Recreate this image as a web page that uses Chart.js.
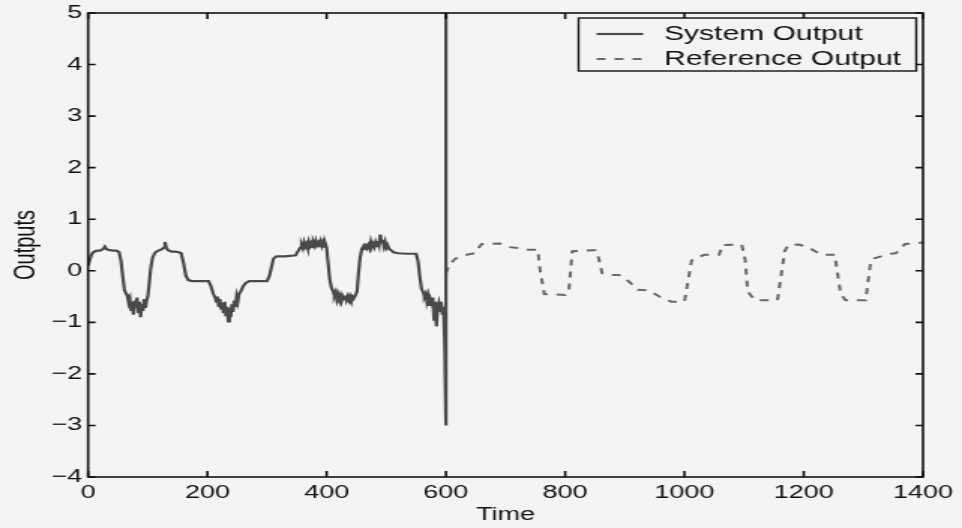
<!DOCTYPE html>
<html>
<head>
<meta charset="utf-8">
<script src="https://cdn.jsdelivr.net/npm/chart.js@4"></script>
<style>
  html, body { margin: 0; padding: 0; background: #f4f4f2; overflow: hidden; }
  /* the figure is printed wide: stretch the canvas sideways */
  #wrap { width: 641px; height: 528px; transform: scaleX(1.5008); transform-origin: 0 0; }
</style>
</head>
<body>
<div id="wrap"><canvas id="chart" width="641" height="528"></canvas></div>
<script>
// system output, 0..600
const sysTime = [
  0, 3, 6, 10, 15, 20, 25, 28, 31, 36,
  42, 48, 52, 55, 58, 61, 64, 66, 68, 70,
  72, 74, 76, 78, 80, 82, 84, 86, 88, 90,
  92, 94, 96, 98, 100, 102, 105, 108, 112, 116,
  120, 124, 127, 129, 131, 134, 140, 146, 152, 156,
  160, 164, 168, 174, 190, 202, 206, 210, 213, 215,
  217, 219, 221, 223, 225, 227, 229, 231, 233, 235,
  237, 239, 241, 243, 245, 247, 249, 251, 253, 256,
  260, 264, 270, 285, 300, 304, 308, 311, 316, 330,
  348, 352, 356, 358, 360, 362, 364, 366, 368, 370,
  372, 374, 376, 378, 380, 382, 384, 386, 388, 390,
  392, 394, 396, 398, 400, 402, 405, 408, 411, 413,
  415, 417, 419, 421, 423, 425, 427, 429, 431, 433,
  435, 437, 439, 441, 443, 445, 448, 451, 453, 456,
  459, 462, 464, 466, 468, 470, 472, 474, 476, 478,
  480, 482, 484, 486, 488, 490, 492, 494, 496, 498,
  500, 502, 505, 508, 512, 520, 535, 550, 553, 556,
  559, 562, 564, 566, 568, 570, 572, 574, 576, 578,
  580, 582, 584, 586, 588, 590, 592, 594, 596, 598,
  600, 600
];
const sysOutput = [
  0.1, 0.22, 0.32, 0.37, 0.39, 0.39, 0.42, 0.47, 0.42, 0.4,
  0.39, 0.39, 0.36, 0.2, -0.1, -0.38, -0.45, -0.5, -0.62, -0.55,
  -0.78, -0.6, -0.85, -0.58, -0.72, -0.52, -0.8, -0.6, -0.9, -0.65,
  -0.78, -0.55, -0.72, -0.58, -0.5, -0.3, 0.05, 0.25, 0.35, 0.38,
  0.4, 0.42, 0.45, 0.56, 0.45, 0.4, 0.37, 0.37, 0.36, 0.34,
  0.15, -0.1, -0.18, -0.2, -0.2, -0.2, -0.3, -0.45, -0.52, -0.6,
  -0.5, -0.7, -0.55, -0.75, -0.62, -0.82, -0.6, -0.88, -0.7, -0.98,
  -0.72, -0.9, -0.65, -0.8, -0.58, -0.7, -0.5, -0.6, -0.45, -0.4,
  -0.3, -0.24, -0.2, -0.2, -0.2, -0.1, 0.1, 0.24, 0.28, 0.28,
  0.3, 0.38, 0.45, 0.5, 0.44, 0.55, 0.47, 0.52, 0.45, 0.56,
  0.48, 0.53, 0.46, 0.55, 0.49, 0.58, 0.5, 0.54, 0.46, 0.56,
  0.48, 0.55, 0.47, 0.52, 0.45, 0.2, -0.15, -0.33, -0.4, -0.48,
  -0.42, -0.55, -0.45, -0.52, -0.47, -0.58, -0.5, -0.55, -0.48, -0.57,
  -0.5, -0.56, -0.49, -0.55, -0.5, -0.54, -0.48, -0.4, -0.1, 0.25,
  0.42, 0.48, 0.42, 0.53, 0.45, 0.5, 0.44, 0.56, 0.47, 0.52,
  0.46, 0.55, 0.48, 0.58, 0.5, 0.7, 0.55, 0.6, 0.48, 0.56,
  0.45, 0.5, 0.42, 0.4, 0.36, 0.34, 0.33, 0.33, 0.2, -0.1,
  -0.35, -0.42, -0.5, -0.45, -0.6, -0.5, -0.68, -0.55, -0.62, -0.52,
  -0.95, -0.6, -1.08, -0.7, -0.62, -0.78, -0.6, -0.85, -0.7, -1.43,
  -3.0, 5.0
];

// reference output, 600..1400
const refTime = [
  600, 605, 615, 630, 648, 660, 690, 705, 722, 738,
  754, 758, 765, 800, 806, 812, 850, 856, 862, 872,
  890, 906, 922, 940, 958, 978, 1000, 1006, 1012, 1018,
  1034, 1058, 1064, 1096, 1102, 1106, 1118, 1156, 1162, 1168,
  1174, 1192, 1208, 1230, 1252, 1256, 1262, 1270, 1304, 1308,
  1312, 1318, 1344, 1354, 1370, 1388, 1400
];
const refOutput = [
  -0.05, 0.1, 0.23, 0.3, 0.34, 0.52, 0.53, 0.46, 0.44, 0.41,
  0.41, 0.0, -0.45, -0.47, -0.4, 0.38, 0.4, 0.25, -0.05, -0.08,
  -0.08, -0.2, -0.37, -0.38, -0.5, -0.6, -0.6, -0.2, 0.2, 0.25,
  0.31, 0.31, 0.5, 0.51, 0.2, -0.4, -0.57, -0.57, -0.1, 0.38,
  0.5, 0.51, 0.45, 0.31, 0.31, 0.0, -0.45, -0.57, -0.57, -0.2,
  0.15, 0.24, 0.33, 0.34, 0.52, 0.53, 0.55
];

const timeTicks = [0, 200, 400, 600, 800, 1000, 1200, 1400];
const outputTicks = [-4, -3, -2, -1, 0, 1, 2, 3, 4, 5];

const BG = '#f4f4f2';
const INK = '#111';
const FONT = "'Liberation Sans', Arial, Helvetica, sans-serif";

Chart.defaults.font.family = FONT;
Chart.defaults.color = INK;

const toPoints = (xs, ys) => xs.map((t, i) => ({ x: t, y: ys[i] }));

// box, inward ticks on all four sides and the boxed legend
const matlabFrame = {
  id: 'matlabFrame',
  beforeDraw(chart) {
    const { ctx, width, height } = chart;
    ctx.save();
    ctx.fillStyle = BG;
    ctx.fillRect(0, 0, width, height);
    ctx.restore();
  },
  afterDraw(chart) {
    const { ctx, chartArea: a, scales: { x, y } } = chart;
    ctx.save();
    ctx.strokeStyle = INK;
    ctx.lineWidth = 1.6;
    ctx.strokeRect(a.left, a.top, a.right - a.left, a.bottom - a.top);

    ctx.beginPath();
    x.ticks.forEach(t => {
      const px = x.getPixelForValue(t.value);
      ctx.moveTo(px, a.bottom); ctx.lineTo(px, a.bottom - 6);
      ctx.moveTo(px, a.top); ctx.lineTo(px, a.top + 6);
    });
    y.ticks.forEach(t => {
      const py = y.getPixelForValue(t.value);
      ctx.moveTo(a.left, py); ctx.lineTo(a.left + 5, py);
      ctx.moveTo(a.right, py); ctx.lineTo(a.right - 5, py);
    });
    ctx.stroke();

    // legend
    const bw = 225, bh = 53;
    const bx = a.right - 4.5 - bw, by = a.top + 5;
    ctx.fillStyle = BG;
    ctx.fillRect(bx, by, bw, bh);
    ctx.lineWidth = 1.4;
    ctx.strokeRect(bx, by, bw, bh);

    ctx.font = '20px ' + FONT;
    ctx.textBaseline = 'middle';
    ctx.textAlign = 'left';
    chart.data.datasets.forEach((ds, i) => {
      const ly = by + 16 + i * 25;
      ctx.beginPath();
      ctx.strokeStyle = ds.borderColor;
      ctx.lineWidth = ds.borderWidth;
      ctx.setLineDash(ds.borderDash || []);
      ctx.moveTo(bx + 12, ly);
      ctx.lineTo(bx + 43, ly);
      ctx.stroke();
      ctx.setLineDash([]);
      ctx.fillStyle = INK;
      ctx.fillText(ds.label, bx + 57, ly);
    });
    ctx.restore();
  }
};

new Chart(document.getElementById('chart'), {
  type: 'line',
  data: {
    datasets: [
      {
        label: 'System Output',
        data: toPoints(sysTime, sysOutput),
        borderColor: '#4a4a4a',
        borderWidth: 2.2,
        pointRadius: 0,
        tension: 0
      },
      {
        label: 'Reference Output',
        data: toPoints(refTime, refOutput),
        borderColor: '#686868',
        borderWidth: 2,
        borderDash: [6, 6],
        pointRadius: 0,
        tension: 0
      }
    ]
  },
  options: {
    responsive: false,
    animation: false,
    devicePixelRatio: 1,
    layout: { padding: { top: 10, right: 26, bottom: 0, left: 0 } },
    plugins: {
      legend: { display: false },
      tooltip: { enabled: false }
    },
    scales: {
      x: {
        type: 'linear',
        min: 0,
        max: 1400,
        afterBuildTicks: s => { s.ticks = timeTicks.map(v => ({ value: v })); },
        afterFit: s => { s.height = 51; },
        grid: { display: false, drawTicks: false },
        border: { display: false },
        ticks: {
          font: { size: 18 },
          padding: 5,
          autoSkip: false,
          maxRotation: 0,
          color: INK,
          callback: v => String(v)
        },
        title: { display: true, text: 'Time', font: { size: 18 }, padding: { top: 0, bottom: 2 }, color: INK }
      },
      y: {
        type: 'linear',
        min: -4,
        max: 5,
        afterBuildTicks: s => { s.ticks = outputTicks.map(v => ({ value: v })); },
        afterFit: s => { s.width = 58.7; },
        grid: { display: false, drawTicks: false },
        border: { display: false },
        ticks: {
          font: { size: 18, lineHeight: 1 },
          padding: 4,
          autoSkip: false,
          color: INK,
          callback: v => String(v).replace('-', '\u2212')
        },
        title: { display: true, text: 'Outputs', font: { size: 20 }, padding: { top: 5, bottom: 0 }, color: INK }
      }
    }
  },
  plugins: [matlabFrame]
});
</script>
</body>
</html>
